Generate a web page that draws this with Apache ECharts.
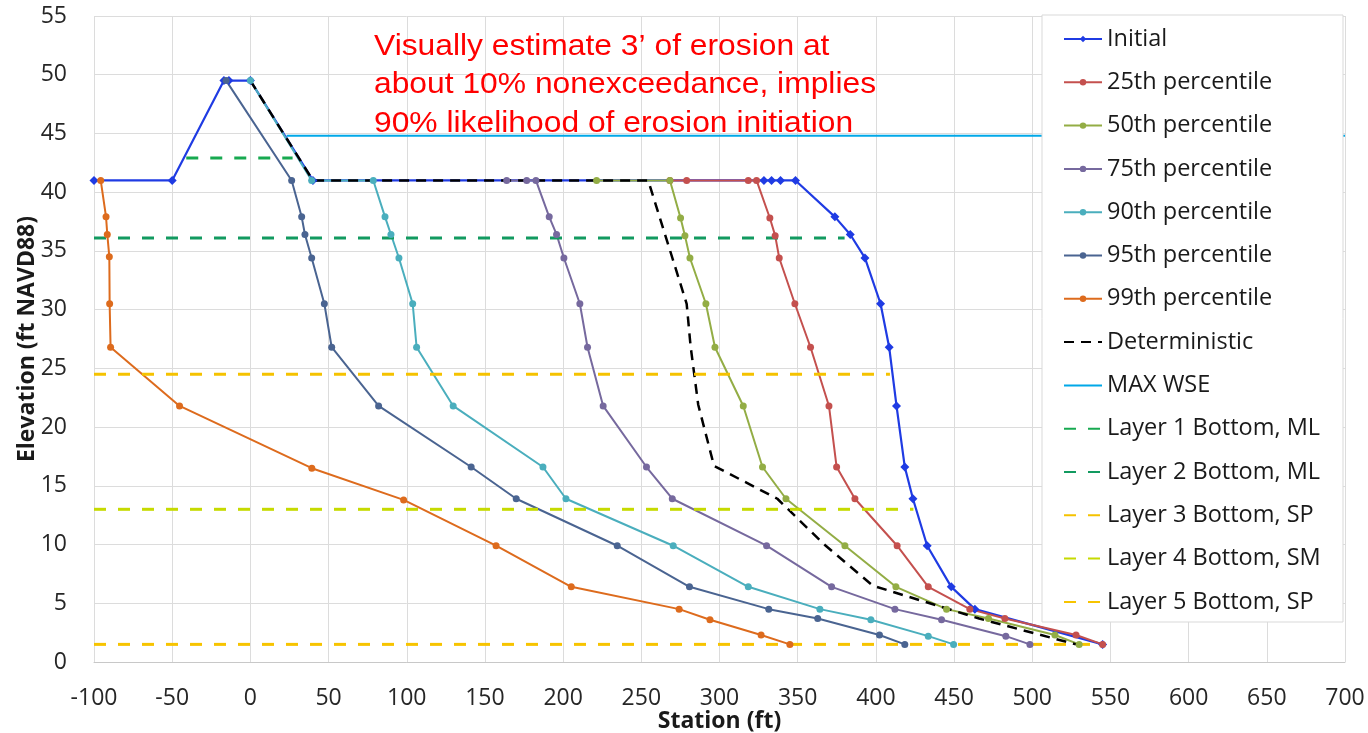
<!DOCTYPE html>
<html>
<head>
<meta charset="utf-8">
<script src="https://cdn.jsdelivr.net/npm/echarts@6/dist/echarts.min.js"></script>
<style>
	html, body { margin: 0; padding: 0; background: #fff; }
	#chart { width: 1368px; height: 733px; }
</style>
</head>
<body>
<div id="chart"></div>
<script>
// 데이터 (station ft, elevation ft)
var initialPts = [[-100, 41], [-50, 41], [-16.9, 49.5], [-13.7, 49.5], [0, 49.5], [40, 41], [328.4, 41], [333.3, 41], [339, 41], [348.6, 41],
	[373.8, 37.9], [383.6, 36.4], [393, 34.4], [403, 30.5], [408.5, 26.8], [413.2, 21.8], [418.5, 16.6], [423.7, 13.9],
	[432.8, 9.9], [448.2, 6.4], [463.3, 4.5], [545, 1.5]];
var p25Pts = [[268.3, 41], [279, 41], [318.4, 41], [323.7, 41], [332.2, 37.8], [335.6, 36.3], [338.2, 34.4], [348.2, 30.5], [358.2, 26.8],
	[370, 21.8], [374.9, 16.6], [386.6, 13.9], [413.6, 9.9], [433.5, 6.4], [460.1, 4.5], [482.5, 3.7], [528, 2.3], [545, 1.5]];
var p50Pts = [[221.4, 41], [268.3, 41], [275.1, 37.8], [277.9, 36.3], [281.1, 34.4], [291.3, 30.5], [297.1, 26.8], [315.2, 21.8],
	[327.5, 16.6], [342.5, 13.9], [380.2, 9.9], [412.8, 6.4], [445.2, 4.5], [472, 3.7], [514.5, 2.3], [530, 1.5]];
var p75Pts = [[163.9, 41], [176.7, 41], [182.6, 41], [191.1, 37.9], [195.8, 36.4], [200.5, 34.4], [210.7, 30.5], [215.6, 26.8],
	[225.6, 21.8], [253.3, 16.6], [269.8, 13.9], [330.1, 9.9], [371.7, 6.4], [412.2, 4.5], [442, 3.6], [483.1, 2.2], [498.5, 1.5]];
var p90Pts = [[0, 49.5], [39.2, 41], [78.6, 41], [86.1, 37.9], [89.9, 36.4], [95, 34.4], [103.8, 30.5], [106.3, 26.8], [129.7, 21.8],
	[187.1, 16.6], [201.8, 13.9], [270.4, 9.9], [318.4, 6.4], [364.2, 4.5], [396.8, 3.6], [433.5, 2.2], [449.7, 1.5]];
var p95Pts = [[-15.5, 49.5], [26.4, 41], [32.8, 37.9], [34.9, 36.4], [39.2, 34.4], [47.3, 30.5], [52, 26.8], [82, 21.8], [141.2, 16.6],
	[170, 13.9], [234.6, 9.9], [280.8, 6.4], [331.5, 4.5], [362.8, 3.7], [402.3, 2.3], [418.5, 1.5]];
var p99Pts = [[-95.7, 41], [-92.3, 37.9], [-91.5, 36.4], [-90.2, 34.5], [-90, 30.5], [-89.4, 26.8], [-45.3, 21.8], [39.3, 16.5],
	[98, 13.8], [157.1, 9.9], [205.2, 6.4], [274.2, 4.5], [293.9, 3.6], [326.6, 2.3], [345, 1.5]];
var detPts = [[0, 49.5], [40, 41], [254.4, 41], [279, 30.5], [281.5, 26.9], [286.4, 21.9], [296.5, 16.7], [337, 13.9], [367, 10],
	[398, 6.5], [466, 3.7], [528, 1.5]];
var maxWsePts = [[23.2, 44.8], [700, 44.8]];
var layer1Pts = [[-41, 42.9], [27, 42.9]];
var layer2Pts = [[-100, 36.1], [380, 36.1]];
var layer3Pts = [[-100, 24.5], [409, 24.5]];
var layer4Pts = [[-100, 13.0], [424, 13.0]];
var layer5Pts = [[-100, 1.5], [545, 1.5]];

var seriesNames = ['Initial', '25th percentile', '50th percentile', '75th percentile', '90th percentile', '95th percentile',
	'99th percentile', 'Deterministic', 'MAX WSE', 'Layer 1 Bottom, ML', 'Layer 2 Bottom, ML', 'Layer 3 Bottom, SP',
	'Layer 4 Bottom, SM', 'Layer 5 Bottom, SP'];
var xTicks = { min: -100, max: 700, step: 50 };
var yTicks = { min: 0, max: 55, step: 5 };
var noteText = 'Visually estimate 3\u2019 of erosion at\nabout 10% nonexceedance, implies\n90% likelihood of erosion initiation';

var FONT = '"Open Sans", "Noto Sans", sans-serif';

// 마커 있는 선
function markLine(name, data, color, symbol, size, width) {
	return {
		name: name,
		type: 'line',
		data: data,
		symbol: symbol,
		symbolSize: size,
		showAllSymbol: true,
		itemStyle: { color: color },
		lineStyle: { color: color, width: width },
		emphasis: { disabled: true },
		animation: false
	};
}

// 마커 없는 선 (점선/실선)
function plainLine(name, data, color, width, dash) {
	return {
		name: name,
		type: 'line',
		data: data,
		symbol: 'none',
		itemStyle: { color: color },
		lineStyle: { color: color, width: width, type: dash },
		emphasis: { disabled: true },
		animation: false
	};
}

// 범례: 마커 없는 선은 심볼 숨김
var legendData = [];
echarts.util.each(seriesNames, function(name, i) {
	if (i >= 7) {
		legendData.push({ name: name, itemStyle: { opacity: 0 } });
	} else {
		legendData.push({ name: name });
	}
});

var chartLocationInit = echarts.init(document.getElementById('chart'));

var option = {
	backgroundColor: '#ffffff',
	animation: false,
	grid: {
		left: 94,
		right: 23,
		top: 16,
		bottom: 71,
		outerBoundsMode: 'none',
		containLabel: false
	},
	xAxis: {
		type: 'value',
		min: xTicks.min,
		max: xTicks.max,
		interval: xTicks.step,
		name: 'Station (ft)',
		nameLocation: 'middle',
		nameGap: 48,
		nameMoveOverlap: false,
		nameTextStyle: { fontFamily: FONT, fontSize: 23, fontWeight: 'bold', color: '#1a1a1a' },
		axisLine: { show: true, lineStyle: { color: '#c8c8c8', width: 1 } },
		axisTick: { show: false },
		axisLabel: { fontFamily: FONT, fontSize: 23, color: '#262626', margin: 25 },
		splitLine: { show: true, lineStyle: { color: '#dcdcdc', width: 1 } }
	},
	yAxis: {
		type: 'value',
		min: yTicks.min,
		max: yTicks.max,
		interval: yTicks.step,
		name: 'Elevation (ft NAVD88)',
		nameLocation: 'middle',
		nameGap: 55,
		nameMoveOverlap: false,
		nameTextStyle: { fontFamily: FONT, fontSize: 23, fontWeight: 'bold', color: '#1a1a1a' },
		axisLine: { show: true, lineStyle: { color: '#dcdcdc', width: 1 } },
		axisTick: { show: false },
		axisLabel: { fontFamily: FONT, fontSize: 23, color: '#262626', margin: 27 },
		splitLine: { show: true, lineStyle: { color: '#dcdcdc', width: 1 } }
	},
	legend: {
		orient: 'vertical',
		left: 1042,
		top: 15,
		z: 6,
		padding: [12, 10, 10, 21],
		itemGap: 19.3,
		itemWidth: 38,
		itemHeight: 8,
		data: legendData,
		textStyle: { fontFamily: FONT, fontSize: 23.5, color: '#1a1a1a', lineHeight: 24 }
	},
	graphic: [
		{
			type: 'rect',
			z: 5,
			shape: { x: 1042, y: 15, width: 301, height: 607 },
			style: { fill: '#ffffff', stroke: '#d9d9d9', lineWidth: 1 }
		},
		{
			type: 'text',
			x: 374,
			y: 27,
			scaleX: 1.06,
			z: 5,
			style: {
				text: noteText,
				font: '30px "Liberation Sans", Arial, sans-serif',
				fill: '#ff0000',
				lineHeight: 38.5
			}
		}
	],
	series: [
		markLine(seriesNames[0], initialPts, '#1f3be3', 'diamond', 9, 2.2),
		markLine(seriesNames[1], p25Pts, '#c4504e', 'circle', 7, 2),
		markLine(seriesNames[2], p50Pts, '#93ad45', 'circle', 7, 2),
		markLine(seriesNames[3], p75Pts, '#76699e', 'circle', 7, 2),
		markLine(seriesNames[4], p90Pts, '#4aaebd', 'circle', 7, 2),
		markLine(seriesNames[5], p95Pts, '#4a6491', 'circle', 7, 2),
		markLine(seriesNames[6], p99Pts, '#dd6b1d', 'circle', 7, 2),
		plainLine(seriesNames[7], detPts, '#000000', 2.5, [10, 7]),
		plainLine(seriesNames[8], maxWsePts, '#00a8e8', 2, 'solid'),
		plainLine(seriesNames[9], layer1Pts, '#17a950', 3, [12, 12]),
		plainLine(seriesNames[10], layer2Pts, '#129a60', 3, [12, 12]),
		plainLine(seriesNames[11], layer3Pts, '#f5c200', 3, [12, 12]),
		plainLine(seriesNames[12], layer4Pts, '#c6da00', 3, [12, 12]),
		plainLine(seriesNames[13], layer5Pts, '#f7c400', 3, [12, 12])
	]
};

chartLocationInit.setOption(option);
</script>
</body>
</html>
